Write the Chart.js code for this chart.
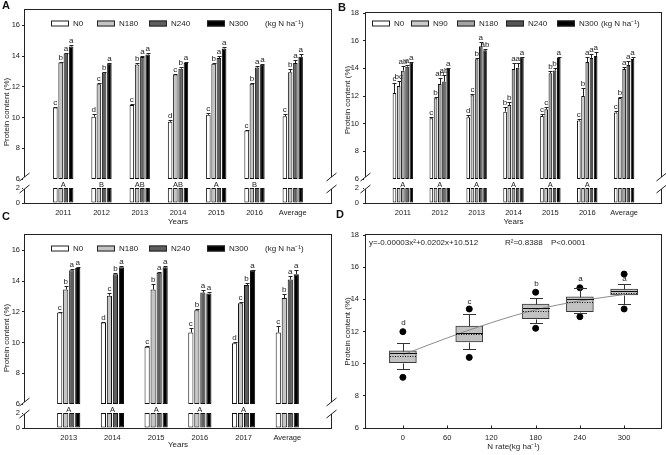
<!DOCTYPE html>
<html>
<head>
<meta charset="utf-8">
<title>Protein content</title>
<script src="https://cdn.jsdelivr.net/npm/chart.js@4.4.1/dist/chart.umd.min.js"></script>
<style>
  body { margin: 0; background: #fff; }
  #fig { position: relative; width: 666px; height: 455px; overflow: hidden; }
  #fig canvas { position: absolute; }
  .tag { position: absolute; font: bold 11px/11px "Liberation Sans", Arial, sans-serif; color: #111; }
</style>
</head>
<body>
<div id="fig">
  <canvas id="chartA" width="340" height="232" style="left:0;top:0"></canvas>
  <canvas id="chartB" width="333" height="232" style="left:333px;top:0"></canvas>
  <canvas id="chartC" width="340" height="230" style="left:0;top:225px"></canvas>
  <canvas id="chartD" width="333" height="230" style="left:333px;top:225px"></canvas>
  <div class="tag" style="left:2px;top:0">A</div>
  <div class="tag" style="left:338px;top:2px">B</div>
  <div class="tag" style="left:2px;top:211px">C</div>
  <div class="tag" style="left:336px;top:209px">D</div>
</div>
<script>
// ---- data ----
const yearsA = ['2011', '2012', '2013', '2014', '2015', '2016', 'Average'];
const yearsC = ['2013', '2014', '2015', '2016', '2017', 'Average'];
const lowerTicks = [0, 2];
const upperTicksA = [6, 8, 10, 12, 14, 16];
const upperTicksB = [6, 8, 10, 12, 14, 16, 18];

// panel A
const aN0 = [10.65, 10.05, 10.82, 9.72, 10.18, 9.15, 10.08];
const aN180 = [13.58, 12.17, 13.45, 12.8, 13.5, 12.2, 12.95];
const aN240 = [14.17, 12.93, 13.94, 13.18, 13.88, 13.25, 13.55];
const aN300 = [14.63, 13.52, 14.1, 13.55, 14.5, 13.43, 13.95];
const aN0e = [0.06, 0.15, 0.05, 0.12, 0.1, 0.05, 0.15];
const aN180e = [0.05, 0.06, 0.08, 0.05, 0.05, 0.04, 0.2];
const aN240e = [0.05, 0.06, 0.05, 0.08, 0.15, 0.08, 0.2];
const aN300e = [0.06, 0.06, 0.08, 0.08, 0.06, 0.06, 0.2];
const aN0L = ['c', 'd', 'c', 'd', 'c', 'c', 'c'];
const aN180L = ['b', 'c', 'b', 'c', 'b', 'b', 'b'];
const aN240L = ['a', 'b', 'a', 'b', 'a', 'a', 'a'];
const aN300L = ['a', 'a', 'a', 'a', 'a', 'a', 'a'];
const aYearL = ['A', 'B', 'AB', 'AB', 'A', 'B', ''];

// panel B
const bN0 = [12.22, 10.4, 10.46, 10.87, 10.55, 10.22, 10.8];
const bN90 = [12.72, 11.83, 12.05, 11.35, 11.04, 12.0, 11.85];
const bN180 = [13.83, 12.87, 14.65, 13.95, 13.65, 14.45, 13.95];
const bN240 = [14.12, 13.04, 15.6, 14.05, 13.85, 14.75, 14.25];
const bN300 = [14.42, 13.95, 15.3, 14.8, 14.75, 14.9, 14.68];
const bN0e = [0.7, 0.08, 0.2, 0.3, 0.15, 0.1, 0.15];
const bN90e = [0.4, 0.1, 0.06, 0.2, 0.2, 0.55, 0.1];
const bN180e = [0.35, 0.45, 0.08, 0.4, 0.15, 0.35, 0.15];
const bN240e = [0.1, 0.45, 0.3, 0.35, 0.15, 0.3, 0.3];
const bN300e = [0.05, 0.05, 0.08, 0.05, 0.1, 0.25, 0.15];
const bN0L = ['c', 'c', 'd', 'b', 'c', 'c', 'c'];
const bN90L = ['bc', 'b', 'c', 'b', 'c', 'b', 'b'];
const bN180L = ['ab', 'ab', 'b', 'a', 'b', 'a', 'a'];
const bN240L = ['a', 'ab', 'a', 'a', 'b', 'a', 'a'];
const bN300L = ['a', 'a', 'ab', 'a', 'a', 'a', 'a'];
const bYearL = ['A', 'A', 'A', 'A', 'A', 'A', ''];

// panel C
const cN0 = [11.95, 11.3, 9.73, 10.65, 9.95, 10.65];
const cN180 = [13.45, 13.05, 13.45, 12.1, 12.55, 12.9];
const cN240 = [14.7, 14.45, 14.55, 13.25, 13.75, 14.1];
const cN300 = [14.85, 14.9, 14.9, 13.2, 14.7, 14.45];
const cN0e = [0.05, 0.05, 0.04, 0.3, 0.1, 0.4];
const cN180e = [0.25, 0.15, 0.35, 0.08, 0.1, 0.25];
const cN240e = [0.08, 0.05, 0.05, 0.15, 0.1, 0.25];
const cN300e = [0.05, 0.05, 0.05, 0.1, 0.05, 0.3];
const cN0L = ['c', 'd', 'c', 'c', 'd', 'c'];
const cN180L = ['b', 'c', 'b', 'b', 'c', 'b'];
const cN240L = ['a', 'b', 'a', 'a', 'b', 'a'];
const cN300L = ['a', 'a', 'a', 'a', 'a', 'a'];
const cYearL = ['A', 'A', 'A', 'A', 'A', ''];

// panel D (box plots by N rate)
const dRates = [0, 90, 180, 240, 300];
const dQ1 = [10.06, 11.35, 12.79, 13.23, 14.27];
const dQ3 = [10.8, 12.34, 13.71, 14.16, 14.64];
const dMedian = [10.64, 11.92, 13.48, 14.0, 14.54];
const dMean = [10.49, 11.84, 13.29, 13.85, 14.41];
const dWhiskLow = [9.67, 10.89, 12.55, 13.13, 13.71];
const dWhiskHigh = [11.26, 13.07, 14.06, 14.68, 14.93];
const dOutLow = [9.15, 10.39, 12.2, 12.92, 13.4];
const dOutHigh = [11.99, 13.4, 14.44, 14.72, 15.57];
const dLetters = ['d', 'c', 'b', 'a', 'a'];
const fitX = [0, 60, 120, 180, 240, 300];
const fitY = [10.55, 11.6, 12.55, 13.35, 13.9, 14.3];
const dTicksX = [0, 60, 120, 180, 240, 300];
const dTicksY = [6, 8, 10, 12, 14, 16, 18];

// ---- drawing ----
const FONT = '"Liberation Sans", Arial, sans-serif';
Chart.defaults.font.family = FONT;
Chart.defaults.color = '#222';
Chart.defaults.animation = false;

const pad = arr => [null, ...arr, null];

function line(ctx, x1, y1, x2, y2) {
  ctx.beginPath();
  ctx.moveTo(x1, y1);
  ctx.lineTo(x2, y2);
  ctx.stroke();
}

const decor = {
  id: 'decor',
  afterDatasetsDraw(chart, args, o) {
    const {ctx, chartArea: a} = chart;
    const L = Math.round(a.left) - 0.5, R = Math.round(a.right) + 0.5;
    const T = Math.round(a.top) - 0.5, B = Math.round(a.bottom) + 0.5;
    ctx.save();
    ctx.strokeStyle = '#222';
    ctx.fillStyle = '#222';
    ctx.lineWidth = 1;
    ctx.strokeRect(L, T, R - L, B - T);

    if (o.broken) {
      const up = chart.scales.yUp, low = chart.scales.yLow;
      const yTop = Math.round(up.bottom) - 2;
      const yBot = Math.round(low.getPixelForValue(lowerTicks[1])) + 1;
      [L, R].forEach(x => {
        ctx.fillStyle = '#fff';
        ctx.fillRect(x - 1.5, yTop, 3, yBot - yTop);
        [yTop, yBot].forEach(y => line(ctx, x - 5, y + 4, x + 5, y - 4));
      });
      ctx.fillStyle = '#222';
      ctx.font = '7.5px ' + FONT;
      ctx.textAlign = 'center';
      ctx.textBaseline = 'middle';
      const xs = chart.scales.x;
      o.groupLetters.forEach((t, i) => {
        if (t) ctx.fillText(t, xs.getPixelForValue(i + 1), low.getPixelForValue(o.groupLetterAt));
      });
    }

    // error bars and significance letters
    ctx.font = '8px ' + FONT;
    ctx.textAlign = 'center';
    ctx.textBaseline = 'bottom';
    chart.data.datasets.forEach((ds, i) => {
      if (!ds.errors) return;
      const meta = chart.getDatasetMeta(i);
      const ys = chart.scales[ds.yAxisID];
      meta.data.forEach((bar, j) => {
        const v = ds.data[j];
        if (v == null) return;
        const top = Array.isArray(v) ? v[1] : v;
        const y0 = ys.getPixelForValue(top);
        const y1 = Math.round(ys.getPixelForValue(top + (ds.errors[j] || 0))) + 0.5;
        const x = Math.round(bar.x) + 0.5;
        line(ctx, x, y0, x, y1);
        line(ctx, x - 2, y1, x + 2, y1);
        if (ds.letters && ds.letters[j]) ctx.fillText(ds.letters[j], bar.x, y1 - 0.5);
      });
    });

    // legend inside the frame
    if (o.legend) {
      const g = o.legend;
      const y = a.top + g.dy;
      ctx.font = '8px ' + FONT;
      ctx.textAlign = 'left';
      ctx.textBaseline = 'middle';
      chart.data.datasets.filter(d => d.inLegend).forEach((d, k) => {
        const x = g.xs[k];
        ctx.fillStyle = d.backgroundColor;
        ctx.fillRect(x, y - 3, 18, 6);
        ctx.strokeRect(x + 0.5, y - 2.5, 17, 5);
        ctx.fillStyle = '#222';
        ctx.fillText(d.label, x + 22, y);
      });
      ctx.fillText(g.unit, g.unitX, y);
    }

    if (o.yTitle) {
      ctx.save();
      ctx.translate(o.yTitle.x, o.yTitle.y);
      ctx.rotate(-Math.PI / 2);
      ctx.font = '8px ' + FONT;
      ctx.textAlign = 'center';
      ctx.textBaseline = 'middle';
      ctx.fillText(o.yTitle.text, 0, 0);
      ctx.restore();
    }

    // box plot details
    if (o.boxes) {
      const xs = chart.scales.x, ys = chart.scales.y;
      const meta = chart.getDatasetMeta(0);
      const px = v => Math.round(ys.getPixelForValue(v)) + 0.5;
      ctx.font = '8px ' + FONT;
      ctx.textAlign = 'center';
      ctx.textBaseline = 'bottom';
      dRates.forEach((r, i) => {
        const x = Math.round(xs.getPixelForValue(r)) + 0.5;
        const half = meta.data[i].width / 2;
        const cap = 6.5;
        ctx.strokeStyle = '#333';
        line(ctx, x, px(dQ3[i]), x, px(dWhiskHigh[i]));
        line(ctx, x - cap, px(dWhiskHigh[i]), x + cap, px(dWhiskHigh[i]));
        line(ctx, x, px(dQ1[i]), x, px(dWhiskLow[i]));
        line(ctx, x - cap, px(dWhiskLow[i]), x + cap, px(dWhiskLow[i]));
        ctx.strokeStyle = '#111';
        line(ctx, x - half, px(dMedian[i]), x + half, px(dMedian[i]));
        ctx.setLineDash([1, 1.5]);
        line(ctx, x - half, px(dMean[i]), x + half, px(dMean[i]));
        ctx.setLineDash([]);
        ctx.fillText(dLetters[i], x, ys.getPixelForValue(o.letterAt[i]) + 4);
      });
      // tick marks pointing into the plot
      ctx.strokeStyle = '#222';
      dTicksX.forEach(v => {
        const x = Math.round(xs.getPixelForValue(v)) + 0.5;
        line(ctx, x, B, x, B - 3);
      });
      ctx.textAlign = 'left';
      ctx.textBaseline = 'middle';
      o.notes.forEach(n => ctx.fillText(n.text, n.x, n.y));
    }
    ctx.restore();
  }
};

function barPanel(id, p) {
  const labels = ['', ...p.categories, ''];
  const upperStart = p.upperTicks[0];
  const lowerTop = lowerTicks[1];
  const common = s => ({
    stack: s.name,
    backgroundColor: s.color,
    borderColor: '#111',
    borderWidth: 1,
    borderSkipped: false,
    categoryPercentage: p.catPct,
    barPercentage: 0.86
  });
  const datasets = [];
  p.series.forEach(s => datasets.push(Object.assign(common(s), {
    label: s.name, inLegend: true, yAxisID: 'yUp',
    data: pad(s.values.map(v => [upperStart, v])),
    errors: pad(s.errors), letters: pad(s.letters)
  })));
  p.series.forEach(s => datasets.push(Object.assign(common(s), {
    label: s.name, yAxisID: 'yLow',
    data: pad(s.values.map(() => lowerTop))
  })));

  const yCommon = (ticks, width) => ({
    type: 'linear', position: 'left', stack: 'v', stacked: false,
    afterBuildTicks: sc => { sc.ticks = ticks.map(v => ({value: v})); },
    afterFit: sc => { sc.width = width; },
    grid: {drawOnChartArea: false, tickLength: 3, color: '#222'},
    border: {display: false},
    ticks: {font: {size: 7.5}, padding: p.tickPad, color: '#222'}
  });

  return new Chart(document.getElementById(id), {
    type: 'bar',
    data: {labels, datasets},
    options: {
      responsive: false,
      events: [],
      layout: {padding: {left: 0, top: p.top, right: p.right, bottom: 0}},
      plugins: {
        legend: {display: false},
        tooltip: {enabled: false},
        decor: {
          broken: true,
          groupLetters: p.groupLetters,
          groupLetterAt: 2.4,
          legend: p.legend,
          yTitle: p.yTitle
        }
      },
      scales: {
        x: {
          type: 'category', offset: false, stacked: true,
          grid: {display: false, drawTicks: false},
          border: {display: false},
          ticks: {font: {size: 7.5}, padding: 5, autoSkip: false, maxRotation: 0, color: '#222'},
          title: {display: true, text: 'Years', font: {size: 8}, color: '#222', padding: {top: 0, bottom: 5}},
          afterFit: sc => { sc.height = p.xHeight; }
        },
        yLow: Object.assign(yCommon(lowerTicks, p.yWidth), {min: 0, max: 3.2, stackWeight: 24}),
        yUp: Object.assign(yCommon(p.upperTicks, p.yWidth), {min: upperStart, max: p.upperMax, stackWeight: p.upperPx})
      }
    },
    plugins: [decor]
  });
}

barPanel('chartA', {
  categories: yearsA,
  upperTicks: upperTicksA, upperMax: 17, upperPx: 169,
  catPct: 0.55, yWidth: 25, tickPad: 2, top: 10, right: 9, xHeight: 29,
  groupLetters: aYearL,
  legend: {xs: [51, 97, 149, 207], unit: '(kg N ha\u207B\u00B9)', unitX: 265, dy: 13.5},
  yTitle: {text: 'Protein content (%)', x: 7, y: 112},
  series: [
    {name: 'N0', values: aN0, errors: aN0e, letters: aN0L, color: '#ffffff'},
    {name: 'N180', values: aN180, errors: aN180e, letters: aN180L, color: '#c4c4c4'},
    {name: 'N240', values: aN240, errors: aN240e, letters: aN240L, color: '#5e5e5e'},
    {name: 'N300', values: aN300, errors: aN300e, letters: aN300L, color: '#000000'}
  ]
});

barPanel('chartB', {
  categories: yearsA,
  upperTicks: upperTicksB, upperMax: 18, upperPx: 166,
  catPct: 0.57, yWidth: 33, tickPad: 4, top: 13, right: 5, xHeight: 29,
  groupLetters: bYearL,
  legend: {xs: [39, 78, 124, 173, 224], unit: '(kg N ha\u207B\u00B9)', unitX: 268, dy: 10.5},
  yTitle: {text: 'Protein content (%)', x: 15, y: 100},
  series: [
    {name: 'N0', values: bN0, errors: bN0e, letters: bN0L, color: '#ffffff'},
    {name: 'N90', values: bN90, errors: bN90e, letters: bN90L, color: '#cccccc'},
    {name: 'N180', values: bN180, errors: bN180e, letters: bN180L, color: '#a3a3a3'},
    {name: 'N240', values: bN240, errors: bN240e, letters: bN240L, color: '#555555'},
    {name: 'N300', values: bN300, errors: bN300e, letters: bN300L, color: '#000000'}
  ]
});

barPanel('chartC', {
  categories: yearsC,
  upperTicks: upperTicksA, upperMax: 17, upperPx: 169,
  catPct: 0.55, yWidth: 25, tickPad: 2, top: 10, right: 9, xHeight: 27,
  groupLetters: cYearL,
  legend: {xs: [51, 97, 149, 207], unit: '(kg N ha\u207B\u00B9)', unitX: 265, dy: 13.5},
  yTitle: {text: 'Protein content (%)', x: 7, y: 113},
  series: [
    {name: 'N0', values: cN0, errors: cN0e, letters: cN0L, color: '#ffffff'},
    {name: 'N180', values: cN180, errors: cN180e, letters: cN180L, color: '#c4c4c4'},
    {name: 'N240', values: cN240, errors: cN240e, letters: cN240L, color: '#5e5e5e'},
    {name: 'N300', values: cN300, errors: cN300e, letters: cN300L, color: '#000000'}
  ]
});

new Chart(document.getElementById('chartD'), {
  type: 'bar',
  data: {
    datasets: [
      {
        label: 'box', order: 3,
        data: dRates.map((x, i) => ({x, y: [dQ1[i], dQ3[i]]})),
        backgroundColor: '#c2c2c2', borderColor: '#3a3a3a', borderWidth: 1,
        borderSkipped: false, barThickness: 27
      },
      {
        type: 'line', label: 'fit', order: 2,
        data: fitX.map((x, i) => ({x, y: fitY[i]})),
        borderColor: '#8c8c8c', borderWidth: 1, pointRadius: 0,
        cubicInterpolationMode: 'monotone'
      },
      {
        type: 'scatter', label: 'outliers', order: 1,
        data: dRates.flatMap((x, i) => [{x, y: dOutLow[i]}, {x, y: dOutHigh[i]}]),
        backgroundColor: '#000', borderColor: '#000', pointRadius: 3
      }
    ]
  },
  options: {
    responsive: false,
    events: [],
    layout: {padding: {left: 0, top: 10, right: 5, bottom: 0}},
    plugins: {
      legend: {display: false},
      tooltip: {enabled: false},
      decor: {
        boxes: true,
        letterAt: [12.55, 13.85, 14.95, 15.25, 15.3],
        notes: [
          {text: 'y=-0.00003x\u00B2+0.0202x+10.512', x: 36, y: 18},
          {text: 'R\u00B2=0.8388', x: 172, y: 18},
          {text: 'P<0.0001', x: 218, y: 18}
        ]
      }
    },
    scales: {
      x: {
        type: 'linear', min: -50, max: 350, offset: false,
        afterBuildTicks: sc => { sc.ticks = dTicksX.map(v => ({value: v})); },
        afterFit: sc => { sc.height = 27; },
        grid: {display: false, drawTicks: false},
        border: {display: false},
        ticks: {font: {size: 7.5}, padding: 5, color: '#222'},
        title: {display: true, text: 'N rate(kg ha\u207B\u00B9)', font: {size: 8}, color: '#222', padding: {top: 0, bottom: 3}}
      },
      y: {
        type: 'linear', min: 6, max: 18,
        afterBuildTicks: sc => { sc.ticks = dTicksY.map(v => ({value: v})); },
        afterFit: sc => { sc.width = 33; },
        grid: {drawOnChartArea: false, tickLength: 3, color: '#222'},
        border: {display: false},
        ticks: {font: {size: 7.5}, padding: 4, color: '#222'},
        title: {display: true, text: 'Protein content (%)', font: {size: 8}, color: '#222', padding: {top: 10, bottom: 0}}
      }
    }
  },
  plugins: [decor]
});
</script>
</body>
</html>
